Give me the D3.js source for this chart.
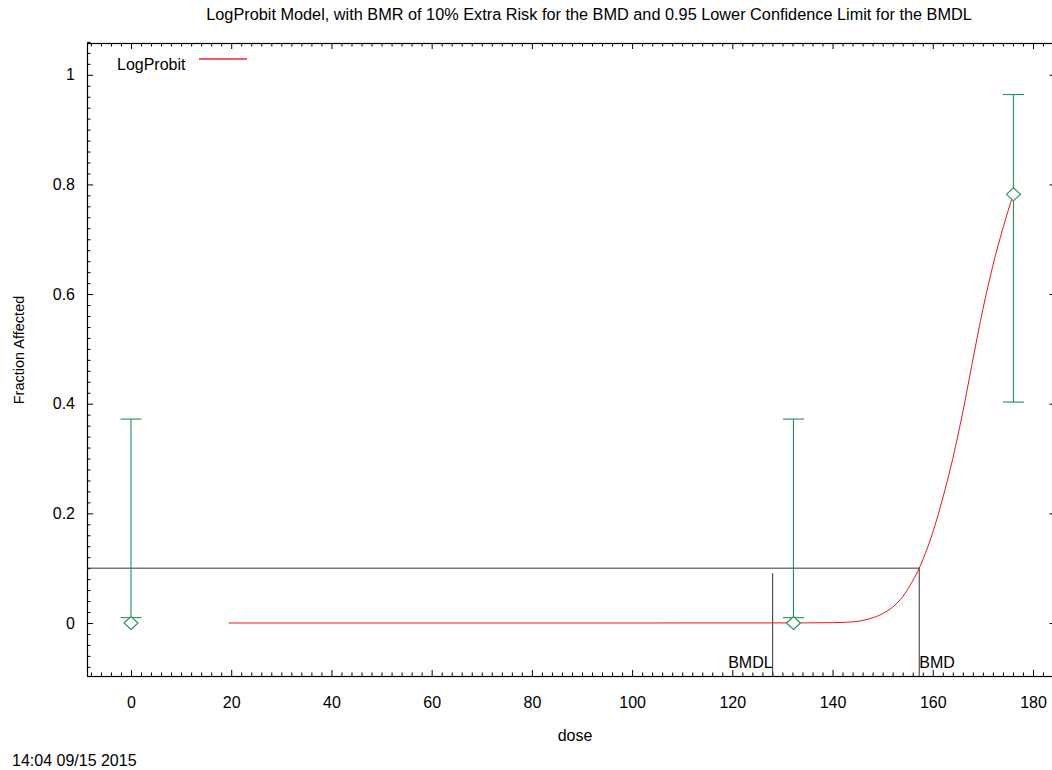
<!DOCTYPE html>
<html>
<head>
<meta charset="utf-8">
<script src="https://cdn.jsdelivr.net/npm/d3@7"></script>
<style>
  body { margin: 0; background: #fff; }
  text { font-family: "Liberation Sans", Arial, sans-serif; fill: #000; }
</style>
</head>
<body>
<div id="chart-area"></div>
<script>
// observed data (dose groups)
var doses = [0, 132.2, 176.1];
var fractions = [0, 0, 0.782];
var ciLower = [0.0097, 0.0097, 0.403];
var ciUpper = [0.372, 0.372, 0.964];

// fitted LogProbit curve
var curveDose = [19.5, 60, 100, 125, 135, 140, 143, 145, 147.5, 150, 152, 154, 156, 157.3, 158, 160, 162, 164, 166, 168, 170, 172, 174, 176.1];
var curveFrac = [0, 0, 0, 0.0001, 0.0002, 0.0006, 0.0015, 0.003, 0.008, 0.017, 0.029, 0.048, 0.077, 0.1, 0.115, 0.165, 0.228, 0.3, 0.385, 0.48, 0.572, 0.652, 0.72, 0.783];

var bmr = 0.1;
var bmd = 157.3;
var bmdl = 128.05;

var xTicks = [0, 20, 40, 60, 80, 100, 120, 140, 160, 180];
var yTicks = [0, 0.2, 0.4, 0.6, 0.8, 1];
var yTickLabels = ["0", "0.2", "0.4", "0.6", "0.8", "1"];

var width = 1052, height = 770;
var plot = {left: 87, top: 43, bottom: 676};
var red = "rgb(232,20,30)";

var svg = d3.select("#chart-area").append("svg")
  .attr("width", width)
  .attr("height", height);

var x = d3.scaleLinear()
  .domain([-8.78, 184.5])
  .range([plot.left, plot.left + 193.28 * 5.011]);
var y = d3.scaleLinear()
  .domain([-0.0967, 1.058])
  .range([plot.bottom, plot.top]);

var right = x.range()[1];
var xMinor = d3.range(-8, 185, 2).filter(function(d) { return d % 20 != 0; });
var yMinor = d3.range(-0.08, 1.06, 0.02).map(function(d) { return Math.round(d * 100) / 100; })
  .filter(function(d) { return Math.round(d * 100) % 20 != 0; });

function tickAxis(axis, tr) {
  var gg = svg.append("g").attr("transform", tr).call(axis);
  gg.select(".domain").remove();
  gg.selectAll("line").attr("stroke", "#000");
  return gg;
}

// bottom
tickAxis(d3.axisBottom(x).tickValues(xTicks).tickSize(-6).tickPadding(21), "translate(0," + plot.bottom + ")")
  .selectAll("text").attr("font-size", "16px");
tickAxis(d3.axisBottom(x).tickValues(xMinor).tickSize(-3.5).tickFormat(""), "translate(0," + plot.bottom + ")");
// top
tickAxis(d3.axisTop(x).tickValues(xTicks).tickSize(-6).tickFormat(""), "translate(0," + plot.top + ")");
tickAxis(d3.axisTop(x).tickValues(xMinor).tickSize(-3.5).tickFormat(""), "translate(0," + plot.top + ")");
// left
tickAxis(d3.axisLeft(y).tickValues(yTicks).tickSize(-6).tickPadding(12)
    .tickFormat(function(d, i) { return yTickLabels[i]; }), "translate(" + plot.left + ",0)")
  .selectAll("text").attr("font-size", "16px");
tickAxis(d3.axisLeft(y).tickValues(yMinor).tickSize(-3.5).tickFormat(""), "translate(" + plot.left + ",0)");
// right
tickAxis(d3.axisRight(y).tickValues(yTicks).tickSize(-6).tickFormat(""), "translate(" + right + ",0)");
tickAxis(d3.axisRight(y).tickValues(yMinor).tickSize(-3.5).tickFormat(""), "translate(" + right + ",0)");

// frame
svg.append("rect")
  .attr("x", plot.left + 0.5)
  .attr("y", plot.top + 0.5)
  .attr("width", right - plot.left)
  .attr("height", plot.bottom - plot.top)
  .attr("fill", "none")
  .attr("stroke", "#000")
  .attr("stroke-width", 1.2);

// BMD / BMDL lines
svg.append("path")
  .attr("d", "M" + x.range()[0] + "," + y(bmr) + "H" + x(bmd) + "V" + plot.bottom)
  .attr("fill", "none")
  .attr("stroke", "#333")
  .attr("stroke-width", 1);
svg.append("line")
  .attr("x1", x(bmdl)).attr("x2", x(bmdl))
  .attr("y1", y(bmr) + 5).attr("y2", plot.bottom)
  .attr("stroke", "#333")
  .attr("stroke-width", 1);
svg.append("text")
  .attr("x", x(bmdl))
  .attr("y", plot.bottom - 8)
  .attr("text-anchor", "end")
  .attr("font-size", "16px")
  .text("BMDL");
svg.append("text")
  .attr("x", x(bmd))
  .attr("y", plot.bottom - 8)
  .attr("font-size", "16px")
  .text("BMD");

// fitted curve
var line = d3.line()
  .x(function(d, i) { return x(curveDose[i]); })
  .y(function(d, i) { return y(curveFrac[i]); })
  .curve(d3.curveMonotoneX);
svg.append("path")
  .datum(curveDose)
  .attr("d", line)
  .attr("fill", "none")
  .style("stroke", red)
  .attr("stroke-width", 1);

// error bars
var green = "#229155";
doses.forEach(function(d, i) {
  var bar = svg.append("g").attr("stroke", green).attr("fill", "none").attr("stroke-width", 1.1);
  bar.append("line").attr("x1", x(d)).attr("x2", x(d)).attr("y1", y(ciLower[i])).attr("y2", y(ciUpper[i]));
  bar.append("line").attr("x1", x(d) - 10.5).attr("x2", x(d) + 10.5).attr("y1", y(ciLower[i])).attr("y2", y(ciLower[i]));
  bar.append("line").attr("x1", x(d) - 10.5).attr("x2", x(d) + 10.5).attr("y1", y(ciUpper[i])).attr("y2", y(ciUpper[i]));
  var cx = x(d), cy = y(fractions[i]);
  bar.append("path")
    .attr("d", "M" + (cx - 7) + "," + cy + "L" + cx + "," + (cy - 6.5) + "L" + (cx + 7) + "," + cy + "L" + cx + "," + (cy + 6.5) + "Z")
    .attr("fill", "#fff");
});

// legend
svg.append("text")
  .attr("x", 117)
  .attr("y", 70)
  .attr("font-size", "16px")
  .text("LogProbit");
svg.append("path")
  .attr("d", "M199,59H247")
  .attr("fill", "none")
  .style("stroke", "#ee2a33")
  .style("stroke-width", "1.3px");

// titles
svg.append("text")
  .attr("x", 589)
  .attr("y", 20)
  .attr("text-anchor", "middle")
  .attr("font-size", "16.3px")
  .text("LogProbit Model, with BMR of 10% Extra Risk for the BMD and 0.95 Lower Confidence Limit for the BMDL");
svg.append("text")
  .attr("x", 575)
  .attr("y", 741)
  .attr("text-anchor", "middle")
  .attr("font-size", "16px")
  .text("dose");
svg.append("text")
  .attr("transform", "translate(24,350) rotate(-90)")
  .attr("text-anchor", "middle")
  .attr("font-size", "14.5px")
  .text("Fraction Affected");
svg.append("text")
  .attr("x", 12)
  .attr("y", 766)
  .attr("font-size", "16px")
  .text("14:04 09/15 2015");
</script>
</body>
</html>
